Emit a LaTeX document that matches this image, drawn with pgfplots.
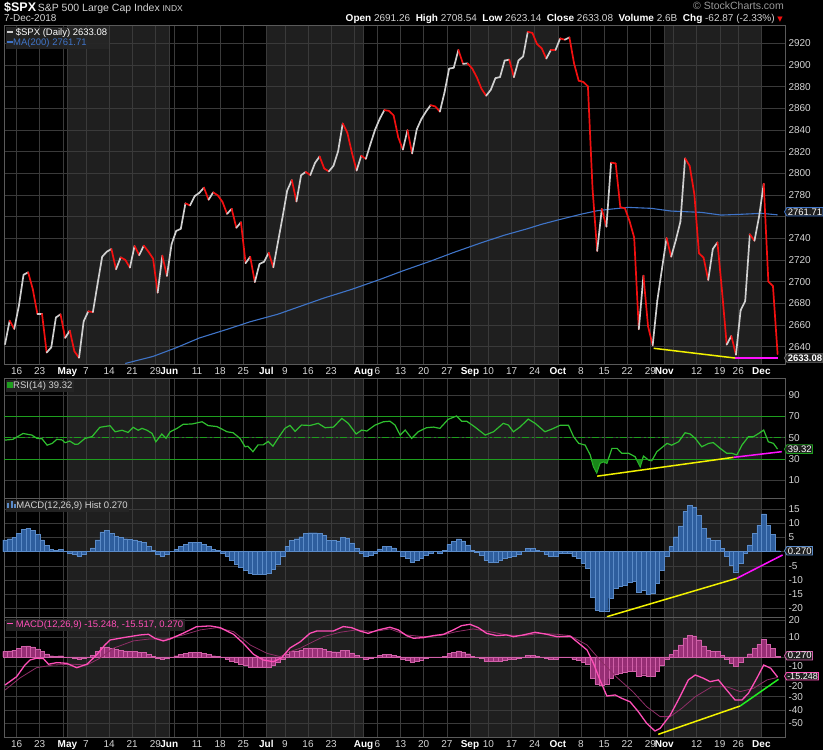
\documentclass[border=0pt]{standalone}
\usepackage{pgfplots}
\pgfplotsset{compat=1.18}
\usepackage{pgfplotstable}
\usetikzlibrary{shapes.symbols}
\usepackage{fontspec}
\setmainfont{Liberation Sans}
\newfontfamily\dejavu{DejaVu Sans}

\definecolor{bandc}{HTML}{1F1F1F}
\definecolor{gridc}{HTML}{3A3A3A}
\definecolor{axc}{HTML}{5A5A5A}
\definecolor{tickc}{HTML}{D4D4D4}
\definecolor{upc}{HTML}{CFCFCF}
\definecolor{dnc}{HTML}{F21010}
\definecolor{mac}{HTML}{3F74C8}
\definecolor{rsic}{HTML}{2FBF2F}
\definecolor{rsiref}{HTML}{1E9E1E}
\definecolor{histb}{HTML}{2E5E9E}
\definecolor{histe}{HTML}{5B8BC8}
\definecolor{macdc}{HTML}{FF4FB8}
\definecolor{sigc}{HTML}{8E2E66}
\definecolor{histp}{HTML}{A83482}
\definecolor{histpe}{HTML}{D060A8}
\definecolor{yel}{HTML}{F2F200}
\definecolor{mag}{HTML}{FF10FF}
\definecolor{lime}{HTML}{22EE22}
\definecolor{legbg}{HTML}{262626}

\pgfplotstableread{
c d
2642.19 0
2663.99 1
2656.30 0
2677.84 0
2706.39 0
2708.64 1
2693.13 1
2670.14 0
2670.29 1
2634.56 0
2639.40 0
2666.94 0
2669.91 1
2648.05 0
2654.80 1
2635.67 1
2629.73 0
2663.42 0
2672.63 1
2671.92 0
2697.79 0
2723.07 0
2727.72 0
2730.13 1
2711.45 0
2722.46 1
2720.13 1
2712.97 0
2733.01 1
2724.44 0
2733.29 1
2727.76 1
2721.33 1
2689.86 0
2724.01 1
2705.27 0
2734.62 0
2746.87 0
2748.80 0
2772.35 1
2770.37 0
2779.03 0
2782.00 0
2786.85 1
2775.63 0
2782.49 1
2779.66 1
2773.75 1
2762.59 0
2767.32 1
2749.76 0
2754.88 1
2717.07 0
2723.06 1
2699.63 0
2716.31 0
2718.37 0
2726.71 1
2713.22 0
2736.61 0
2759.82 0
2784.17 0
2793.84 1
2774.02 0
2798.29 0
2801.31 1
2798.43 0
2809.55 0
2815.62 1
2804.49 1
2801.83 0
2806.98 0
2820.40 0
2846.07 1
2837.44 1
2818.82 1
2802.60 0
2816.29 1
2813.36 0
2827.22 0
2840.35 0
2850.40 0
2858.45 1
2857.70 1
2853.58 1
2833.28 1
2821.93 0
2839.96 1
2818.37 0
2840.69 0
2850.13 0
2857.05 0
2862.96 1
2861.82 1
2856.98 0
2874.69 0
2896.74 0
2897.52 0
2914.04 1
2901.13 0
2901.52 1
2896.72 1
2888.60 1
2878.05 1
2871.68 0
2877.13 0
2887.89 0
2888.92 0
2904.18 0
2904.98 1
2888.80 0
2904.31 0
2907.95 0
2930.75 1
2929.67 1
2919.37 1
2915.56 1
2905.97 0
2914.00 1
2913.98 0
2924.59 1
2923.43 0
2925.51 1
2901.61 1
2885.57 1
2884.43 1
2880.34 1
2785.68 1
2728.37 0
2767.13 1
2750.79 0
2809.92 1
2809.21 1
2768.78 1
2767.78 1
2755.88 1
2740.69 1
2656.10 0
2705.57 1
2658.69 1
2641.25 0
2682.63 0
2711.74 0
2740.37 1
2723.06 0
2738.31 0
2755.45 0
2813.89 1
2806.83 1
2781.01 1
2726.22 1
2722.18 1
2701.58 0
2730.20 0
2736.27 1
2690.73 1
2641.89 0
2649.93 1
2632.56 0
2673.45 0
2682.17 0
2743.79 1
2737.76 0
2760.17 0
2790.37 1
2700.06 1
2695.95 1
2633.08 1
}\price

\pgfplotstableread{
x m
23 2624.5
29 2631
34 2639
39 2648
45 2656
50 2663
56 2670
61 2677.5
66 2685
72 2693
78 2702
83 2710
89 2719
94 2727
100 2736
105 2743
110 2749
113 2753
117 2757.5
121.6 2762.4
125 2765.5
128 2767
131.7 2768.6
136.7 2767.7
141 2765.2
147.5 2764
151.8 2761.5
156 2762.2
160.5 2763.1
164 2761.71
}\ma

\pgfplotstableread{
h
4.1
4.5
5.0
6.4
7.8
8.2
7.5
6.0
4.1
2.2
0.8
0.4
0.8
0.0
-0.6
-1.0
-1.5
-1.1
0.0
1.3
4.1
6.9
7.5
6.4
5.4
5.0
4.5
4.3
4.1
3.5
3.2
1.9
0.4
-1.1
-1.5
-1.1
0.0
0.8
1.9
2.6
3.2
3.2
3.2
2.6
1.9
0.8
0.4
-0.6
-1.5
-3.0
-4.3
-5.6
-6.7
-7.5
-8.0
-8.0
-8.0
-7.5
-6.2
-4.3
-1.5
1.9
4.0
4.5
5.2
6.3
6.6
6.6
6.4
5.6
4.0
3.8
3.7
4.9
4.6
3.0
1.0
-0.6
-1.5
-1.2
-0.6
0.9
1.7
1.7
1.3
0.2
-1.8
-2.5
-3.8
-3.0
-2.2
-1.2
-0.6
0.0
-0.6
0.5
2.5
3.5
4.4
3.7
2.3
0.5
-0.3
-1.2
-3.0
-3.6
-3.6
-3.0
-2.4
-2.0
-1.5
-0.8
0.0
1.1
1.1
0.5
0.0
-1.0
-1.5
-1.5
-0.6
-0.6
-0.6
-1.8
-2.4
-4.1
-5.9
-15.9
-20.5
-21.1
-20.8
-16.4
-12.9
-12.3
-11.8
-10.9
-10.6
-14.4
-13.5
-14.9
-14.7
-11.0
-6.5
-1.5
1.7
5.2
9.0
14.0
16.3
15.7
12.8
8.1
4.6
4.0
4.0
1.1
-1.8
-4.7
-7.1
-4.1
-0.6
2.3
6.4
9.3
13.2
9.3
6.1
0.27
}\hist

\pgfplotstableread{
x r
-3 47.8
-1.3 48.5
0.9 54
2.8 52.5
3.9 49.4
5.0 49
6.1 43
7.2 44.7
8.2 48.5
9.3 48
10 45.3
11 46.9
12.1 43.8
12.8 44
14.3 49.4
15.8 51
17.5 59.8
19.7 61.3
20.8 55.6
22.3 57
23.6 55
24.7 59.8
25.8 57
26.6 58.8
27.7 57
28.8 54
29.6 46.2
30.9 53.5
31.8 49.4
32.7 55.6
34.2 58.8
35.5 62.6
37.4 62.9
39.6 65
40.9 61.4
42.8 60.5
45.0 55.6
46.3 54.7
47.8 49.4
48.9 41.5
49.5 42
50.6 36.9
51.7 43.3
52.8 43.3
53.9 46.5
54.9 42
56.0 49.4
57.5 58.8
58.6 61.6
59.7 56
61.1 61.9
62.9 61.5
64.7 63.5
66.2 59.4
68.0 60
69.8 68.2
71.2 63.5
72.9 53.5
74.1 57.2
75.2 56.3
77.0 61.9
78.8 65
80.2 65.5
81.3 61.9
82.4 52.5
83.5 57.2
84.9 49.4
86.3 55.6
88.1 59.4
89.6 60
91.0 58.8
92.8 67.3
94.6 70.4
95.7 65.5
96.8 65.5
98.6 60
100.8 52.5
102.6 55.6
104.7 63.5
105.8 61.9
106.9 55.6
108.3 60
110.1 67.5
111.6 63.5
113.7 55.6
115.2 58.1
117 61.7
118.8 61.7
119.9 51
121.0 44.7
122.4 43.1
123.5 33.8
124.2 22.8
124.9 17.1
125.6 26
126.4 27.5
127.1 26
128.2 40
129.3 40
130.3 35.4
131.8 35.4
133.2 32.2
134.3 22.8
135.0 32.8
136.1 29
136.8 28.4
137.9 36.9
140.1 44.7
141.1 43
142.6 46.2
144.0 54.7
145.1 53.5
146.2 49.4
147.6 41.5
149.1 44.7
150.1 45.4
151.6 40
153.0 35.4
154.1 35.4
155.2 33.8
156.3 43.1
157.7 51
158.8 51
159.9 54
161.0 57.2
162.0 46.2
163.1 44.7
164 39.32
}\rsi

\pgfplotstableread{
x v
-3 -21.2
-0.5 -15
1.3 -6.2
2.4 -2.4
3.8 -1.1
5.3 -1.4
6.4 -5.6
8.2 -4.4
10.3 -4.9
12.5 -8.2
14.7 -5.6
16.8 1.4
18.6 8.9
19.7 12.6
22.6 14.4
26.2 16.4
28.0 16.9
29.4 13.9
31.2 11.9
32.7 13.4
35.5 17.7
38.4 22.6
41.3 23.2
43.5 21.9
46.4 16.9
48.5 10.2
50.7 1.9
52.8 -2.4
55.0 -3.7
56.8 -0.7
58.6 6.6
60.8 11.2
62.9 17.6
64.4 19.4
68.0 19.4
70.1 22.7
71.9 21.9
73.7 19.4
75.5 17.6
77.7 20.2
80.2 22.2
82.0 20.2
83.8 15.9
85.3 13.9
87.4 14.4
89.6 15.9
91.8 16.9
93.9 20.2
95.7 23.4
97.5 24.4
99.3 21.9
101.1 17.6
103.3 15.9
105.4 16.4
106.9 15.1
109.0 16.4
111.6 18.4
114.1 16.9
116.3 15.1
119.2 15.4
122.8 5.1
124.2 -4.9
125.6 -17.4
127.1 -29.5
128.9 -28.7
130.3 -31.2
132.1 -33.8
133.9 -41.3
135.7 -50
137.5 -55.8
138.6 -53.8
140.8 -43.8
142.9 -30
144.7 -17.4
146.2 -13.7
148.0 -16.2
149.4 -18.7
151.2 -17.4
153.0 -25
154.8 -32.5
156.3 -32.5
157.7 -27.4
159.5 -16.2
161.0 -6.2
162.5 -8.6
164 -15.248
}\macd

\pgfplotstableread{
x v
-3 -25
0.2 -16
3.8 -8.2
7.4 -6.2
11.8 -5.6
14.7 -6.2
17.5 -1.1
20.4 6.4
24.7 11.9
28.3 13.4
31.9 13.4
35.5 16.4
39.2 20.2
42.8 21.9
46.4 18.9
50.0 8.9
53.6 2.6
56.5 0.1
58.6 3.9
60.8 6.4
62.2 8.9
65.8 15.1
69.4 18.4
73.0 20.2
76.6 18.9
80.2 20.9
83.8 16.4
87.4 15.1
91.0 15.9
94.6 18.9
98.2 20.9
101.8 18.9
105.4 16.4
109.0 15.9
112.7 17.6
116.3 16.9
119.1 15.9
122.8 8.9
125.6 -2.4
129.1 -15
132.7 -26.2
135.7 -37.5
138.6 -45
140.8 -45
143.3 -38.7
146.2 -30
149.8 -22.5
153.0 -22.5
155.9 -26.2
158.8 -23.7
161.7 -17.4
164 -15.517
}\signal

\newcommand{\mon}[1]{\textbf{\color{white}#1}}

\tikzset{
  tag/.style={signal, signal to=west, signal pointer angle=120, fill=black!88, text=white,
    inner sep=0.9pt, line width=0.8pt, font=\fontsize{9.5}{10}\selectfont, anchor=west, xshift=-1pt},
  leg/.style={anchor=north west, inner sep=1.5pt, fill=legbg, fill opacity=0.9, text opacity=1,
    font=\fontsize{9.5}{11}\selectfont, align=left, xshift=1.5pt, yshift=-1.5pt},
}

\pgfplotsset{
  base/.style={
    scale only axis, width=781pt,
    anchor=south west,
    xmin=-3.22, xmax=165.6,
  },
  bg/.style={base, hide axis, ymin=0, ymax=1},
  panel/.style={
    base,
    axis line style={draw=axc, line width=0.7pt},
    xtick={-0.5,4.5,9.5,10.5,14.5,19.5,24.5,29.5,32.5,33.5,38.5,43.5,48.5,53.5,57.5,62.5,67.5,72.5,74.5,77.5,82.5,87.5,92.5,97.5,101.5,106.5,111.5,116.5,121.5,126.5,131.5,136.5,139.5,141.5,146.5,151.5,155.5,160.5},
    xticklabels=\empty,
    xmajorgrids, ymajorgrids,
    major grid style={draw=gridc, line width=0.5pt},
    major tick length=0pt,
    yticklabel pos=right,
    clip=false,
    every y tick label/.append style={font=\fontsize{10}{12}\selectfont, text=tickc},
    every x tick label/.append style={font=\fontsize{10}{12}\selectfont, text=tickc},
    /pgf/number format/assume math mode=true,
    /pgf/number format/1000 sep={},
  },
  datelabels/.style={
    xticklabels={16,23,,\mon{May},7,14,21,29,\mon{Jun},,11,18,25,\mon{Jul},9,16,23,,\mon{Aug},6,13,20,27,\mon{Sep},10,17,24,\mon{Oct},8,15,22,29,\mon{Nov},,12,19,26,\mon{Dec}},
  },
}

\newcommand{\bands}{%
  \addplot[fill=bandc, draw=none] coordinates {(10.5,0) (32.5,0) (32.5,1) (10.5,1)};
  \addplot[fill=bandc, draw=none] coordinates {(53.5,0) (74.5,0) (74.5,1) (53.5,1)};
  \addplot[fill=bandc, draw=none] coordinates {(97.5,0) (116.5,0) (116.5,1) (97.5,1)};
  \addplot[fill=bandc, draw=none] coordinates {(139.5,0) (160.5,0) (160.5,1) (139.5,1)};
}

\begin{document}
\begin{tikzpicture}
\fill[black] (0,0) rectangle (823pt,750pt);
\useasboundingbox (0,0) rectangle (823pt,750pt);

% header
\node[anchor=base west, inner sep=0, text=white] at (4pt,738pt) {{\fontsize{12.5}{14}\selectfont\bfseries \$SPX}\,{\fontsize{10.5}{12}\selectfont\color{tickc} S\&P 500 Large Cap Index}\ {\fontsize{8.5}{10}\selectfont\color{tickc} INDX}};
\node[anchor=base west, inner sep=0, text=tickc, font=\fontsize{10}{12}\selectfont] at (4pt,728pt) {7-Dec-2018};
\node[anchor=base east, inner sep=0, text=black!40, font=\fontsize{10.5}{12}\selectfont] at (784pt,740pt) {© StockCharts.com};
\node[anchor=base east, inner sep=0, text=tickc, font=\fontsize{10}{12}\selectfont] at (783pt,728pt) {\textbf{\color{white}Open} 2691.26 \ \textbf{\color{white}High} 2708.54 \ \textbf{\color{white}Low} 2623.14 \ \textbf{\color{white}Close} 2633.08 \ \textbf{\color{white}Volume} 2.6B \ \textbf{\color{white}Chg} -62.87 (-2.33\%) {\dejavu\fontsize{7}{8}\selectfont\color{dnc}▼}};

% ===== month bands =====
\begin{axis}[bg, at={(4pt,386pt)}, height=339pt] \bands \end{axis}
\begin{axis}[bg, at={(4pt,252pt)}, height=120pt] \bands \end{axis}
\begin{axis}[bg, at={(4pt,133pt)}, height=119pt] \bands \end{axis}
\begin{axis}[bg, at={(4pt,13pt)}, height=120pt] \bands \end{axis}

% ===== main price panel =====
\begin{axis}[panel, datelabels, at={(4pt,386pt)}, height=339pt,
  ymin=2624, ymax=2937, ytick={2640,2660,...,2920},
  yticklabels={2640,2660,2680,2700,2720,2740,,2780,2800,2820,2840,2860,2880,2900,2920}]
\addplot[no marks, mac, line width=1.1pt] table[x=x, y=m] {\ma};
\addplot[mesh, shader=flat corner, point meta=explicit, point meta min=0, point meta max=1,
  colormap={ud}{color=(upc) color=(dnc)}, line width=1.7pt, line cap=round]
  table[x expr=\coordindex-3, y=c, meta=d] {\price};
\addplot[no marks, yel, line width=1.5pt] coordinates {(137.2,2638.5) (154.8,2629.5)};
\addplot[no marks, mag, line width=1.5pt] coordinates {(154.8,2629.5) (164,2629.5)};
\node[leg] at (rel axis cs:0,1) {\textcolor{upc}{\rule[0.28em]{6pt}{1.6pt}} \textcolor{white}{\$SPX (Daily) 2633.08}\\[-1pt]\textcolor{mac}{\rule[0.28em]{6pt}{1.6pt}MA(200) 2761.71}};
\node[tag, draw=mac] at (axis cs:165.6,2764.5) {2761.71};
\node[tag, draw=black!55, font=\fontsize{9.5}{10}\selectfont\bfseries] at (axis cs:165.6,2629.5) {2633.08};
\end{axis}

% ===== RSI panel =====
\begin{axis}[panel, at={(4pt,252pt)}, height=120pt,
  ymin=-6.6, ymax=106.1, ytick={10,30,50,70,90}]
\addplot[no marks, rsiref, line width=1pt] coordinates {(-3.22,70) (165.6,70)};
\addplot[no marks, rsiref, line width=1.1pt, dash pattern=on 7pt off 2.5pt on 2pt off 2.5pt] coordinates {(-3.22,50) (165.6,50)};
\addplot[no marks, rsiref, line width=1pt] coordinates {(-3.22,30) (165.6,30)};
\addplot[no marks, rsic, line width=1.2pt] table[x=x, y=r] {\rsi};
\addplot[no marks, yel, line width=1.5pt] coordinates {(125,13.9) (154.5,31.6)};
\addplot[no marks, mag, line width=1.5pt] coordinates {(154.5,31.6) (164.9,36.9)};
\node[leg] at (rel axis cs:0,1) {\textcolor{rsiref}{\rule[0.05em]{6pt}{6pt}}\textcolor{tickc}{RSI(14) 39.32}};
\node[tag, draw=rsiref] at (axis cs:165.6,39.32) {39.32};
\end{axis}
% oversold fill (RSI below 30), clipped by an axis whose top is the 30 level
\begin{axis}[base, hide axis, at={(4pt,252pt)}, height=38.97pt, ymin=-6.6, ymax=30]
\addplot[fill=rsiref, draw=none, fill opacity=0.85] table[x=x, y=r] {\rsi};
\end{axis}

% ===== MACD histogram panel =====
\begin{axis}[panel, at={(4pt,133pt)}, height=119pt,
  ymin=-23, ymax=18.8, ytick={-20,-15,...,15},
  yticklabels={-20,-15,-10,-5,,5,10,15}]
\addplot[ybar, bar width=1, fill=histb, draw=histe, line width=0.4pt] table[x expr=\coordindex-3, y=h] {\hist};
\addplot[no marks, yel, line width=1.5pt] coordinates {(127.1,-22.9) (155.2,-9.4)};
\addplot[no marks, mag, line width=1.5pt] coordinates {(155.2,-9.4) (165.1,-1.2)};
\node[leg] at (rel axis cs:0,1) {\textcolor{histe}{\rule{2pt}{5pt}\,\rule{2pt}{7pt}\,\rule{2pt}{4pt}}\textcolor{tickc}{MACD(12,26,9) Hist 0.270}};
\node[tag, draw=histe] at (axis cs:165.6,0.27) {0.270};
\end{axis}

% ===== MACD panel =====
\begin{axis}[panel, datelabels, at={(4pt,13pt)}, height=120pt,
  ymin=-60.3, ymax=29.9, ytick={-50,-40,-30,-22,-7.3,0,14.7,27.7},
  yticklabels={-50,-40,-30,-20,-10,,10,20}]
\addplot[ybar, bar width=1, fill=histp, draw=histpe, line width=0.4pt, fill opacity=0.9] table[x expr=\coordindex-3, y=h] {\hist};
\addplot[no marks, sigc, line width=0.8pt] table[x=x, y=v] {\signal};
\addplot[no marks, macdc, line width=1.3pt] table[x=x, y=v] {\macd};
\addplot[no marks, yel, line width=1.5pt] coordinates {(138.2,-58.3) (155.9,-37)};
\addplot[no marks, lime, line width=1.5pt] coordinates {(155.9,-37) (164.2,-16.9)};
\node[leg] at (rel axis cs:0,1) {\textcolor{macdc}{\rule[0.28em]{6pt}{1.6pt} MACD(12,26,9) -15.248, -15.517, 0.270}};
\node[tag, draw=histpe] at (axis cs:165.6,0.8) {0.270};
\node[tag, draw=macdc, font=\fontsize{9}{9.5}\selectfont, inner sep=0.6pt] at (axis cs:165.6,-14.6) {-15.248};
\end{axis}
\end{tikzpicture}
\end{document}
